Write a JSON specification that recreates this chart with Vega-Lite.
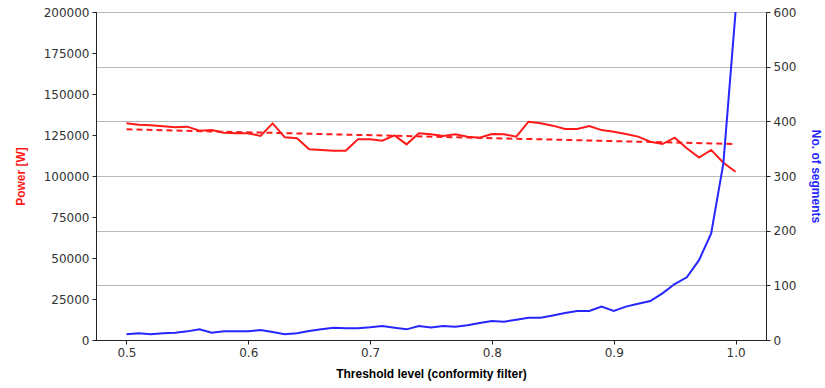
{
  "$schema": "https://vega.github.io/schema/vega-lite/v6.json",
  "width": 670,
  "height": 328,
  "autosize": "none",
  "padding": {"left": 96, "top": 12, "right": 59, "bottom": 48},
  "background": "white",
  "config": {
    "view": {"stroke": "#222", "strokeWidth": 1},
    "font": "Liberation Sans",
    "axis": {
      "labelFont": "DejaVu Sans",
      "labelFontSize": 12,
      "labelColor": "#333",
      "domainColor": "#222",
      "tickColor": "#222",
      "tickSize": 4,
      "titleFont": "Liberation Sans",
      "titleFontSize": 12,
      "titleFontWeight": "bold"
    }
  },
  "datasets": {
    "main": [
      {"threshold": 0.50, "power": 132100, "segments": 10.4},
      {"threshold": 0.51, "power": 131300, "segments": 12.2},
      {"threshold": 0.52, "power": 130900, "segments": 10.4},
      {"threshold": 0.53, "power": 130300, "segments": 12.2},
      {"threshold": 0.54, "power": 129700, "segments": 13.4},
      {"threshold": 0.55, "power": 130100, "segments": 15.8},
      {"threshold": 0.56, "power": 127600, "segments": 19.5},
      {"threshold": 0.57, "power": 128000, "segments": 13.4},
      {"threshold": 0.58, "power": 126400, "segments": 15.8},
      {"threshold": 0.59, "power": 126000, "segments": 15.8},
      {"threshold": 0.60, "power": 126000, "segments": 15.8},
      {"threshold": 0.61, "power": 124400, "segments": 18.3},
      {"threshold": 0.62, "power": 132100, "segments": 14.6},
      {"threshold": 0.63, "power": 123600, "segments": 10.4},
      {"threshold": 0.64, "power": 123000, "segments": 12.2},
      {"threshold": 0.65, "power": 116300, "segments": 16.5},
      {"threshold": 0.66, "power": 115900, "segments": 19.5},
      {"threshold": 0.67, "power": 115400, "segments": 22.6},
      {"threshold": 0.68, "power": 115400, "segments": 21.3},
      {"threshold": 0.69, "power": 122400, "segments": 21.3},
      {"threshold": 0.70, "power": 122400, "segments": 23.2},
      {"threshold": 0.71, "power": 121500, "segments": 25.6},
      {"threshold": 0.72, "power": 124800, "segments": 22.6},
      {"threshold": 0.73, "power": 119300, "segments": 19.5},
      {"threshold": 0.74, "power": 126000, "segments": 25.6},
      {"threshold": 0.75, "power": 125400, "segments": 23.0},
      {"threshold": 0.76, "power": 124400, "segments": 25.6},
      {"threshold": 0.77, "power": 125400, "segments": 24.4},
      {"threshold": 0.78, "power": 124000, "segments": 26.8},
      {"threshold": 0.79, "power": 123400, "segments": 31.0},
      {"threshold": 0.80, "power": 125600, "segments": 34.7},
      {"threshold": 0.81, "power": 125400, "segments": 33.5},
      {"threshold": 0.82, "power": 124000, "segments": 37.0},
      {"threshold": 0.83, "power": 133100, "segments": 40.8},
      {"threshold": 0.84, "power": 132100, "segments": 40.8},
      {"threshold": 0.85, "power": 130700, "segments": 45.0},
      {"threshold": 0.86, "power": 128700, "segments": 49.4},
      {"threshold": 0.87, "power": 128700, "segments": 53.0},
      {"threshold": 0.88, "power": 130500, "segments": 53.0},
      {"threshold": 0.89, "power": 128000, "segments": 61.0},
      {"threshold": 0.90, "power": 127000, "segments": 53.0},
      {"threshold": 0.91, "power": 125600, "segments": 61.0},
      {"threshold": 0.92, "power": 124000, "segments": 66.4},
      {"threshold": 0.93, "power": 120900, "segments": 71.3},
      {"threshold": 0.94, "power": 119500, "segments": 85.4},
      {"threshold": 0.95, "power": 123400, "segments": 102.4},
      {"threshold": 0.96, "power": 116900, "segments": 114.6},
      {"threshold": 0.97, "power": 111200, "segments": 146.0},
      {"threshold": 0.98, "power": 115900, "segments": 195.0},
      {"threshold": 0.99, "power": 108100, "segments": 323.0},
      {"threshold": 1.00, "power": 102600, "segments": 600.0}
    ],
    "trend": [
      {"threshold": 0.50, "power": 128450},
      {"threshold": 1.00, "power": 119500}
    ]
  },
  "layer": [
    {
      "layer": [
        {
          "data": {"name": "main"},
          "mark": {"type": "line", "color": "#ff1a1a", "strokeWidth": 2, "clip": true},
          "encoding": {
            "x": {"field": "threshold", "type": "quantitative"},
            "y": {"field": "power", "type": "quantitative"}
          }
        },
        {
          "data": {"name": "trend"},
          "mark": {"type": "line", "color": "#ff1a1a", "strokeWidth": 2, "strokeDash": [6, 4], "clip": true},
          "encoding": {
            "x": {"field": "threshold", "type": "quantitative"},
            "y": {"field": "power", "type": "quantitative"}
          }
        }
      ],
      "encoding": {
        "x": {
          "field": "threshold", "type": "quantitative",
          "scale": {"domain": [0.475, 1.025], "nice": false, "zero": false},
          "axis": {
            "title": "Threshold level (conformity filter)",
            "titleColor": "#000",
            "titlePadding": 10,
            "values": [0.5, 0.6, 0.7, 0.8, 0.9, 1.0],
            "format": ".1f",
            "grid": false,
            "labelPadding": 3
          }
        },
        "y": {
          "field": "power", "type": "quantitative",
          "scale": {"domain": [0, 200000], "nice": false},
          "axis": {
            "title": "Power [W]",
            "titleColor": "#ff1a1a",
            "titlePadding": 16,
            "values": [0, 25000, 50000, 75000, 100000, 125000, 150000, 175000, 200000],
            "format": "d",
            "grid": false,
            "labelPadding": 3
          }
        }
      }
    },
    {
      "data": {"name": "main"},
      "mark": {"type": "line", "color": "#2626ff", "strokeWidth": 2, "clip": true},
      "encoding": {
        "x": {"field": "threshold", "type": "quantitative"},
        "y": {
          "field": "segments", "type": "quantitative",
          "scale": {"domain": [0, 600], "nice": false},
          "axis": {
            "orient": "right",
            "title": "No. of segments",
            "titleColor": "#2626ff",
            "titlePadding": 13,
            "values": [0, 100, 200, 300, 400, 500, 600],
            "grid": true,
            "gridColor": "#b8b8b8",
            "gridWidth": 1,
            "labelPadding": 3
          }
        }
      }
    }
  ],
  "resolve": {"scale": {"y": "independent"}}
}
